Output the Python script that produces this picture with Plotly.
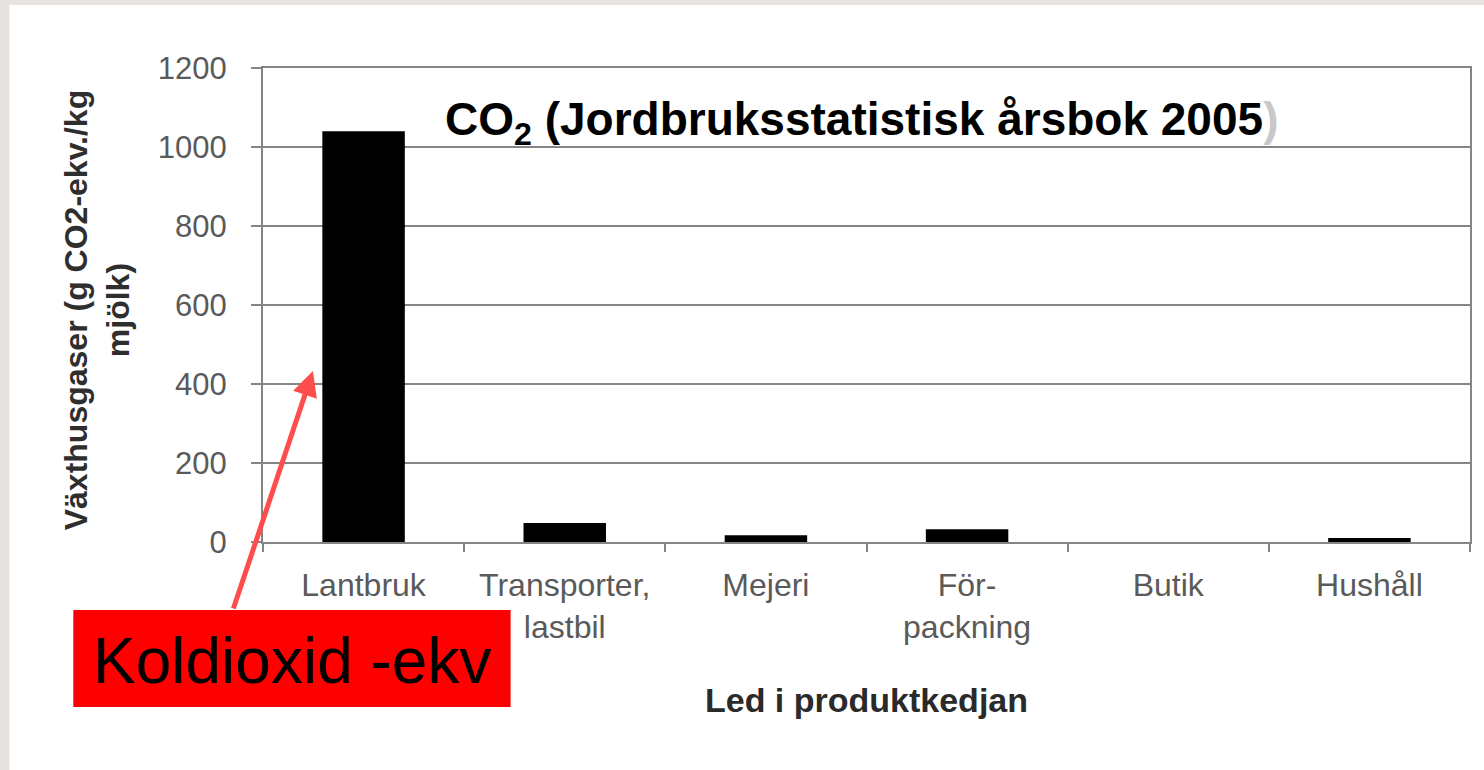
import plotly.graph_objects as go

categories = ["Lantbruk", "Transporter,<br>lastbil", "Mejeri", "För-<br>packning", "Butik", "Hushåll"]
values = [1040, 48, 17, 32, 0, 10]
y_ticks = [0, 200, 400, 600, 800, 1000, 1200]

W, H = 1484, 770
L, R, T, B = 263, 12, 68, 228
PW, PH = W - L - R, H - T - B

def px(x):
    return (x - L) / PW

def py(y):
    return (H - B - y) / PH

FONT = "Liberation Sans, Arial, sans-serif"
GRID = "#858585"

fig = go.Figure()
fig.add_trace(go.Bar(x=categories, y=values, marker=dict(color="black", line=dict(width=0)),
                     width=0.41, showlegend=False))

fig.update_layout(
    width=W, height=H,
    margin=dict(l=L, r=R, t=T, b=B, pad=0),
    paper_bgcolor="#e6e3e0",
    plot_bgcolor="white",
    bargap=0.59,
    font=dict(family=FONT),
    xaxis=dict(
        type="category", tickson="boundaries", ticks="outside", ticklen=8, tickwidth=2,
        tickcolor=GRID, showline=True, linecolor=GRID, linewidth=2, mirror=True,
        showgrid=False, tickfont=dict(size=32, color="#5a5a5a", family=FONT),
        ticklabelstandoff=14,
        title=dict(text="<b>Led i produktkedjan</b>", font=dict(size=34, color="#2a2a2a"), standoff=44),
    ),
    yaxis=dict(
        range=[0, 1200], tickvals=y_ticks, ticks="outside", ticklen=10, tickwidth=2,
        tickcolor=GRID, showline=True, linecolor=GRID, linewidth=2, mirror=True,
        showgrid=True, gridcolor=GRID, gridwidth=2, zeroline=False,
        tickfont=dict(size=31, color="#5a5a5a", family=FONT), ticklabelstandoff=18,
    ),
    shapes=[
        dict(type="rect", xref="paper", yref="paper", layer="below",
             x0=px(9), x1=px(1490), y0=py(780), y1=py(5), fillcolor="white", line=dict(width=0)),
        dict(type="rect", xref="paper", yref="paper", layer="above",
             x0=px(73), x1=px(511), y0=py(707), y1=py(610), fillcolor="#ff0000", line=dict(width=0)),
    ],
    annotations=[
        dict(text="<b>Växthusgaser (g CO2-ekv./kg<br>mjölk)</b>", textangle=-90,
             xref="paper", yref="paper", x=px(97), y=py(310), showarrow=False,
             font=dict(size=32, color="#2e2e2e", family=FONT), xanchor="center", yanchor="middle"),
        dict(text="<b>CO<sub>2</sub> (Jordbruksstatistisk årsbok 2005<span style='color:#c8c8c8'>)</span></b>",
             xref="paper", yref="paper", x=px(443), y=py(122), showarrow=False,
             font=dict(size=46, color="black", family=FONT), xanchor="left", yanchor="middle"),
        dict(text="Koldioxid -ekv", xref="paper", yref="paper", x=px(292), y=py(661),
             showarrow=False, font=dict(size=64, color="black", family=FONT),
             xanchor="center", yanchor="middle"),
        dict(text="", xref="paper", yref="paper", x=px(313), y=py(371),
             ax=233 - 313, ay=610 - 371, axref="pixel", ayref="pixel",
             showarrow=True, arrowhead=2, arrowsize=1, arrowwidth=5,
             arrowcolor="#ff4d4d", standoff=0, startstandoff=0),
    ],
)

fig.write_html("out.html", config={"displayModeBar": False},
               post_script="document.body.style.margin='0';")
